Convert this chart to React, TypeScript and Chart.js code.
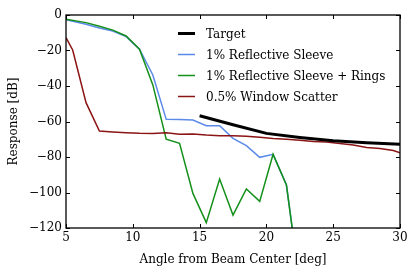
import React, { useEffect, useRef } from "react";
import { Chart, registerables } from "chart.js";

Chart.register(...registerables);

// Angles [deg] for the sleeve curves
const sleeveAngles = [5, 6.5, 7.5, 8.5, 9.5, 10.5, 11.5, 12.5, 13.5, 14.5, 15.5, 16.5, 17.5, 18.5, 19.5, 20.5, 21.5, 22.5];
const sleeveValues = [-2.6, -5.2, -7.3, -9.0, -12.2, -19.3, -33.8, -58.8, -58.9, -59.2, -62.4, -62.4, -69.5, -73.6, -80.2, -78.5, -95.8, -152];
const ringsValues = [-2.4, -4.3, -6.3, -8.5, -11.8, -19.3, -39.4, -70.0, -72.3, -100.5, -117.0, -92.4, -112.7, -98.0, -105.0, -78.5, -95.8, -152];

const targetAngles = [15, 17.5, 20, 22.5, 25, 27.5, 30];
const targetValues = [-56.8, -61.8, -66.7, -69.0, -70.9, -72.0, -72.8];

const scatterAngles = [5, 5.5, 6.5, 7.5, 8.5, 9.5, 10.5, 11.5, 12.5, 13.5, 14.5, 15.5, 16.5, 17.5, 18.5, 19.5, 20.5, 21.5, 22.5, 23.5, 24.5, 25.5, 26.5, 27.5, 28.5, 29.5, 30];
const scatterValues = [-12.8, -19.7, -49.4, -65.4, -65.9, -66.3, -66.6, -66.7, -66.4, -67.2, -67.0, -67.6, -68.0, -68.0, -68.3, -68.9, -69.6, -70.0, -70.5, -71.2, -71.6, -72.4, -73.3, -74.6, -75.2, -76.3, -77.6];

const seriesLabels = ["Target", "1% Reflective Sleeve", "1% Reflective Sleeve + Rings", "0.5% Window Scatter"];
const seriesColors = ["#000000", "#5b8ae8", "#14901a", "#8b1414"];
const seriesWidths = [3, 1.5, 1.5, 1.5];

const xTicks = [5, 10, 15, 20, 25, 30];
const yTicks = [0, -20, -40, -60, -80, -100, -120];

const FONT = "'DejaVu Serif', serif";

const pts = (xs: number[], ys: number[]) => xs.map((x, i) => ({ x, y: ys[i] }));

const framePlugin = {
  id: "frameTicksLegend",
  afterDatasetsDraw(chart: any) {
    const { ctx, chartArea: a, scales } = chart;
    const xs = scales.x, ys = scales.y;
    ctx.save();
    ctx.strokeStyle = "#000";
    ctx.lineWidth = 1;
    const tl = 4;
    ctx.beginPath();
    xTicks.forEach((v) => {
      const px = Math.round(xs.getPixelForValue(v)) + 0.5;
      ctx.moveTo(px, a.bottom); ctx.lineTo(px, a.bottom - tl);
      ctx.moveTo(px, a.top); ctx.lineTo(px, a.top + tl);
    });
    yTicks.forEach((v) => {
      const py = Math.round(ys.getPixelForValue(v)) + 0.5;
      ctx.moveTo(a.left, py); ctx.lineTo(a.left + tl, py);
      ctx.moveTo(a.right, py); ctx.lineTo(a.right - tl, py);
    });
    ctx.stroke();
    ctx.lineWidth = 1.3;
    ctx.strokeRect(a.left, a.top, a.right - a.left, a.bottom - a.top);

    // legend
    const lx0 = 178, lx1 = 195, tx = 206;
    const rowY = [33.5, 54.5, 75.5, 96.5];
    ctx.font = `12px ${FONT}`;
    ctx.textBaseline = "middle";
    ctx.fillStyle = "#000";
    seriesLabels.forEach((lab, i) => {
      ctx.strokeStyle = seriesColors[i];
      ctx.lineWidth = seriesWidths[i];
      ctx.beginPath();
      ctx.moveTo(lx0, rowY[i]);
      ctx.lineTo(lx1, rowY[i]);
      ctx.stroke();
      ctx.fillText(lab, tx, rowY[i] + 1);
    });
    ctx.restore();
  },
};

export default function App() {
  const ref = useRef<HTMLCanvasElement>(null);
  useEffect(() => {
    document.body.style.margin = "0";
    const mk = (i: number, data: any[], order: number) => ({
      label: seriesLabels[i],
      data,
      borderColor: seriesColors[i],
      backgroundColor: seriesColors[i],
      borderWidth: seriesWidths[i],
      pointRadius: 0,
      tension: 0,
      clip: 0,
      order,
    });
    const chart = new Chart(ref.current as HTMLCanvasElement, {
      type: "line",
      data: {
        datasets: [
          mk(0, pts(targetAngles, targetValues), 0),
          mk(1, pts(sleeveAngles, sleeveValues), 3),
          mk(2, pts(sleeveAngles, ringsValues), 2),
          mk(3, pts(scatterAngles, scatterValues), 1),
        ],
      },
      options: {
        animation: false,
        responsive: false,
        devicePixelRatio: 1,
        layout: { padding: { top: 15, right: 16, left: 0, bottom: 0 } },
        plugins: { legend: { display: false }, tooltip: { enabled: false } },
        scales: {
          x: {
            type: "linear",
            min: 5,
            max: 30,
            afterBuildTicks: (s: any) => { s.ticks = xTicks.map((v) => ({ value: v })); },
            afterFit: (s: any) => { s.height = 47; },
            grid: { display: false, drawTicks: false },
            border: { display: false },
            ticks: { color: "#000", font: { family: FONT, size: 12 }, padding: 3, maxRotation: 0, autoSkip: false },
            title: { display: true, text: "Angle from Beam Center [deg]", color: "#000", font: { family: FONT, size: 12 }, padding: { top: 0, bottom: 8 } },
          },
          y: {
            type: "linear",
            min: -120,
            max: 0,
            afterBuildTicks: (s: any) => { s.ticks = yTicks.map((v) => ({ value: v })); },
            afterFit: (s: any) => { s.width = 66; },
            grid: { display: false, drawTicks: false },
            border: { display: false },
            ticks: {
              color: "#000",
              font: { family: FONT, size: 12 },
              padding: 4,
              callback: (v: any) => String(v).replace("-", "\u2212"),
            },
            title: { display: true, text: "Response [dB]", color: "#000", font: { family: FONT, size: 12 }, padding: { top: 7, bottom: 0 } },
          },
        },
      },
      plugins: [framePlugin],
    } as any);
    return () => chart.destroy();
  }, []);
  return (
    <div style={{ position: "fixed", left: 0, top: 0, width: 416, height: 275, background: "#fff" }}>
      <canvas ref={ref} width={416} height={275} style={{ width: 416, height: 275, display: "block" }} />
    </div>
  );
}
